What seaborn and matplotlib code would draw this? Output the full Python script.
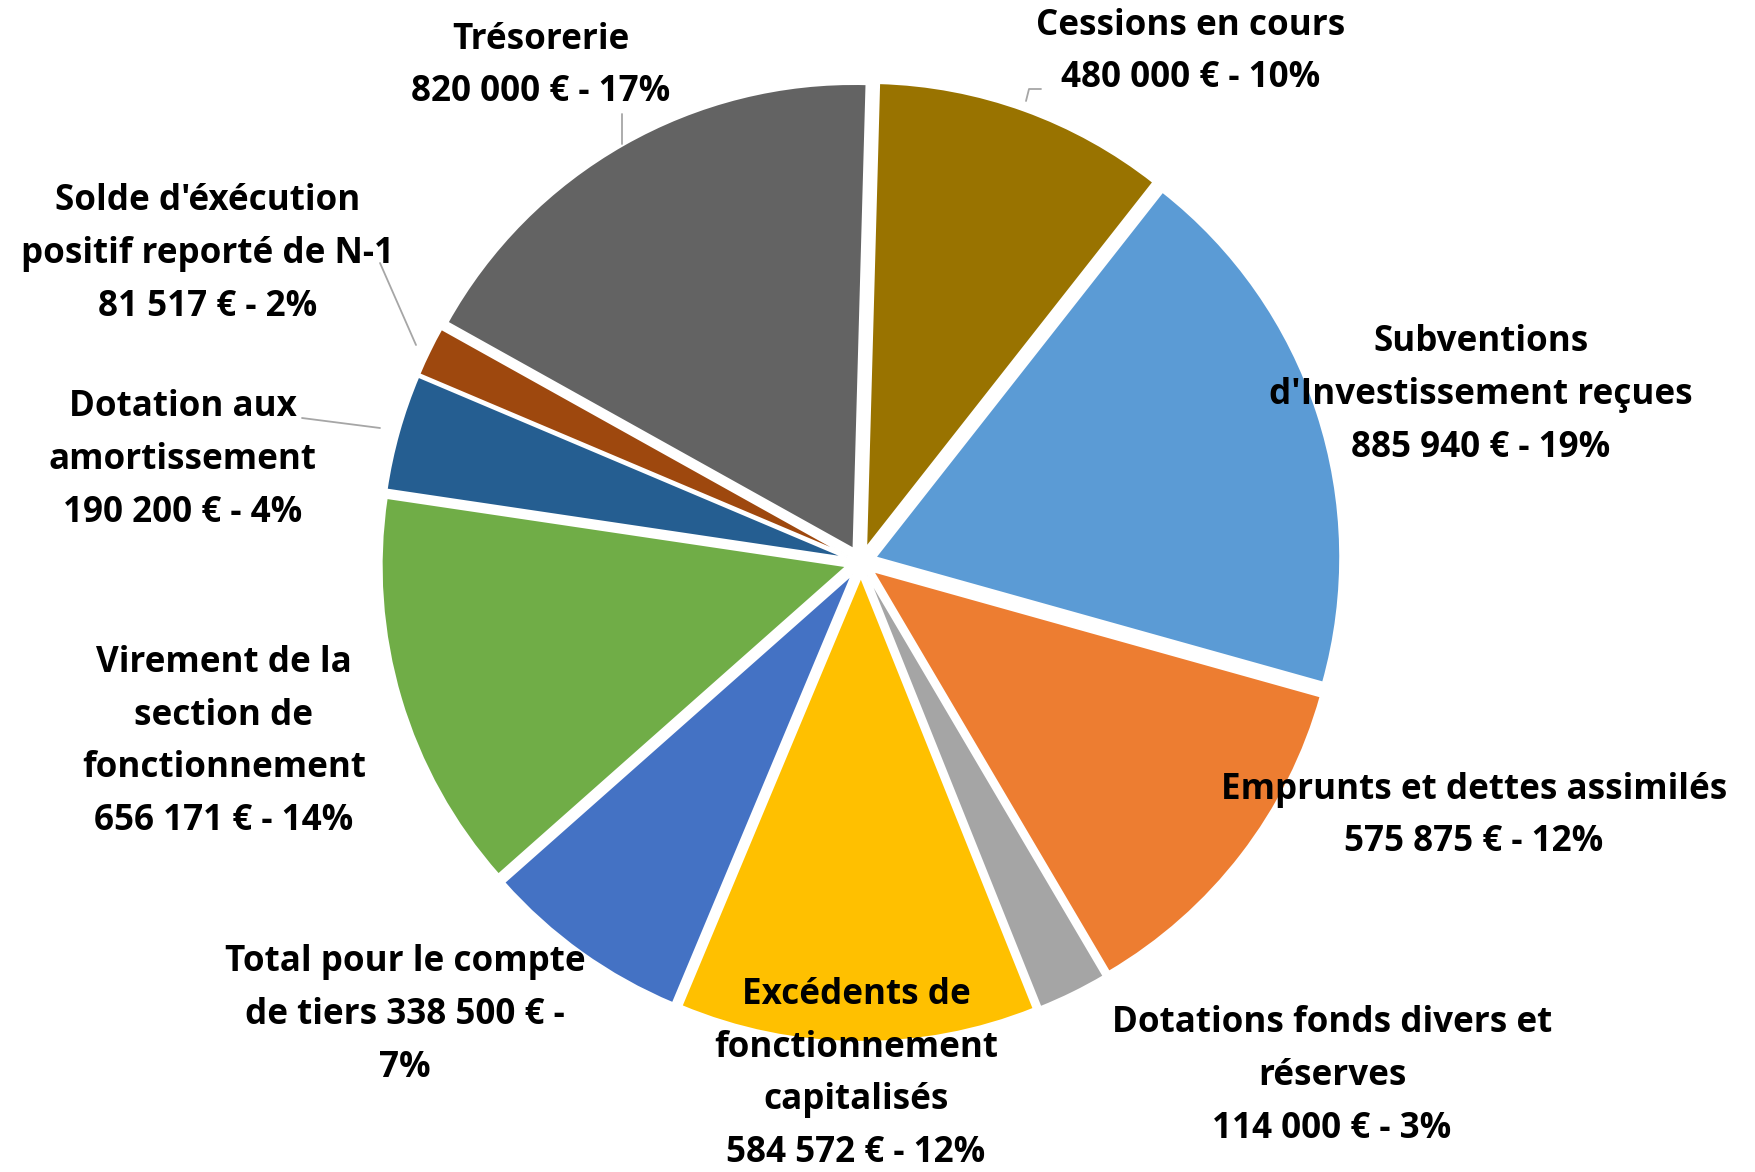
import matplotlib
matplotlib.use("Agg")
import matplotlib.pyplot as plt
import seaborn as sns

# slices, clockwise from 12 o'clock
names = [
    "Cessions en cours",
    "Subventions\nd'Investissement reçues",
    "Emprunts et dettes assimilés",
    "Dotations fonds divers et\nréserves",
    "Excédents de\nfonctionnement\ncapitalisés",
    "Total pour le compte\nde tiers",
    "Virement de la\nsection de\nfonctionnement",
    "Dotation aux\namortissement",
    "Solde d'éxécution\npositif reporté de N-1",
    "Trésorerie",
]
values = [480000, 885940, 575875, 114000, 584572, 338500, 656171, 190200, 81517, 820000]
pct_labels = [10, 19, 12, 3, 12, 7, 14, 4, 2, 17]
colors = ["#997300", "#5B9BD5", "#ED7D31", "#A5A5A5", "#FFC000",
          "#4472C4", "#70AD47", "#255E91", "#9E480E", "#636363"]

# label block centres, in image pixels (x, y from top)
label_pos = [(1191, 52), (1481, 395), (1474, 816), (1332, 1076), (856, 1074),
             (405, 1015), (224, 742), (183, 460), (208, 254), (541, 66)]
# leader lines, image pixels
leaders = [
    [(1026, 101), (1029, 89), (1041, 89)],
    [(622, 114), (622, 144)],
    [(380, 263), (416, 345)],
    [(302, 418), (380, 428)],
]

W, H = 1755, 1172
sns.set_theme(style="white")
plt.rcParams["font.family"] = ["Open Sans", "DejaVu Sans"]

fig = plt.figure(figsize=(W / 100, H / 100), dpi=100)
ax = fig.add_axes([0, 0, 1, 1])

ax.pie(values, colors=colors, startangle=90 - 1.6, counterclock=False,
       radius=465, center=(861, H - 562), explode=[15] * len(values),
       wedgeprops=dict(edgecolor="white", linewidth=1.5))

step = 52.6
for name, v, p, (x, y) in zip(names, values, pct_labels, label_pos):
    val = f"{v:,}".replace(",", " ") + " €"
    if name.startswith("Total pour"):
        lines = ["Total pour le compte", f"de tiers {val} -", f"{p}%"]
    else:
        lines = name.split("\n") + [f"{val} - {p}%"]
    n = len(lines)
    for i, ln in enumerate(lines):
        yy = y + (i - (n - 1) / 2) * step
        ax.text(x, H - yy, ln, ha="center", va="center", fontsize=25.2,
                fontweight="bold", color="black")

for pts in leaders:
    xs = [p[0] for p in pts]
    ys = [H - p[1] for p in pts]
    ax.plot(xs, ys, color="#A6A6A6", lw=1.3)

ax.set_xlim(0, W)
ax.set_ylim(0, H)
ax.set_aspect("equal")
ax.axis("off")

fig.savefig("out.png", dpi=100, facecolor="white")
